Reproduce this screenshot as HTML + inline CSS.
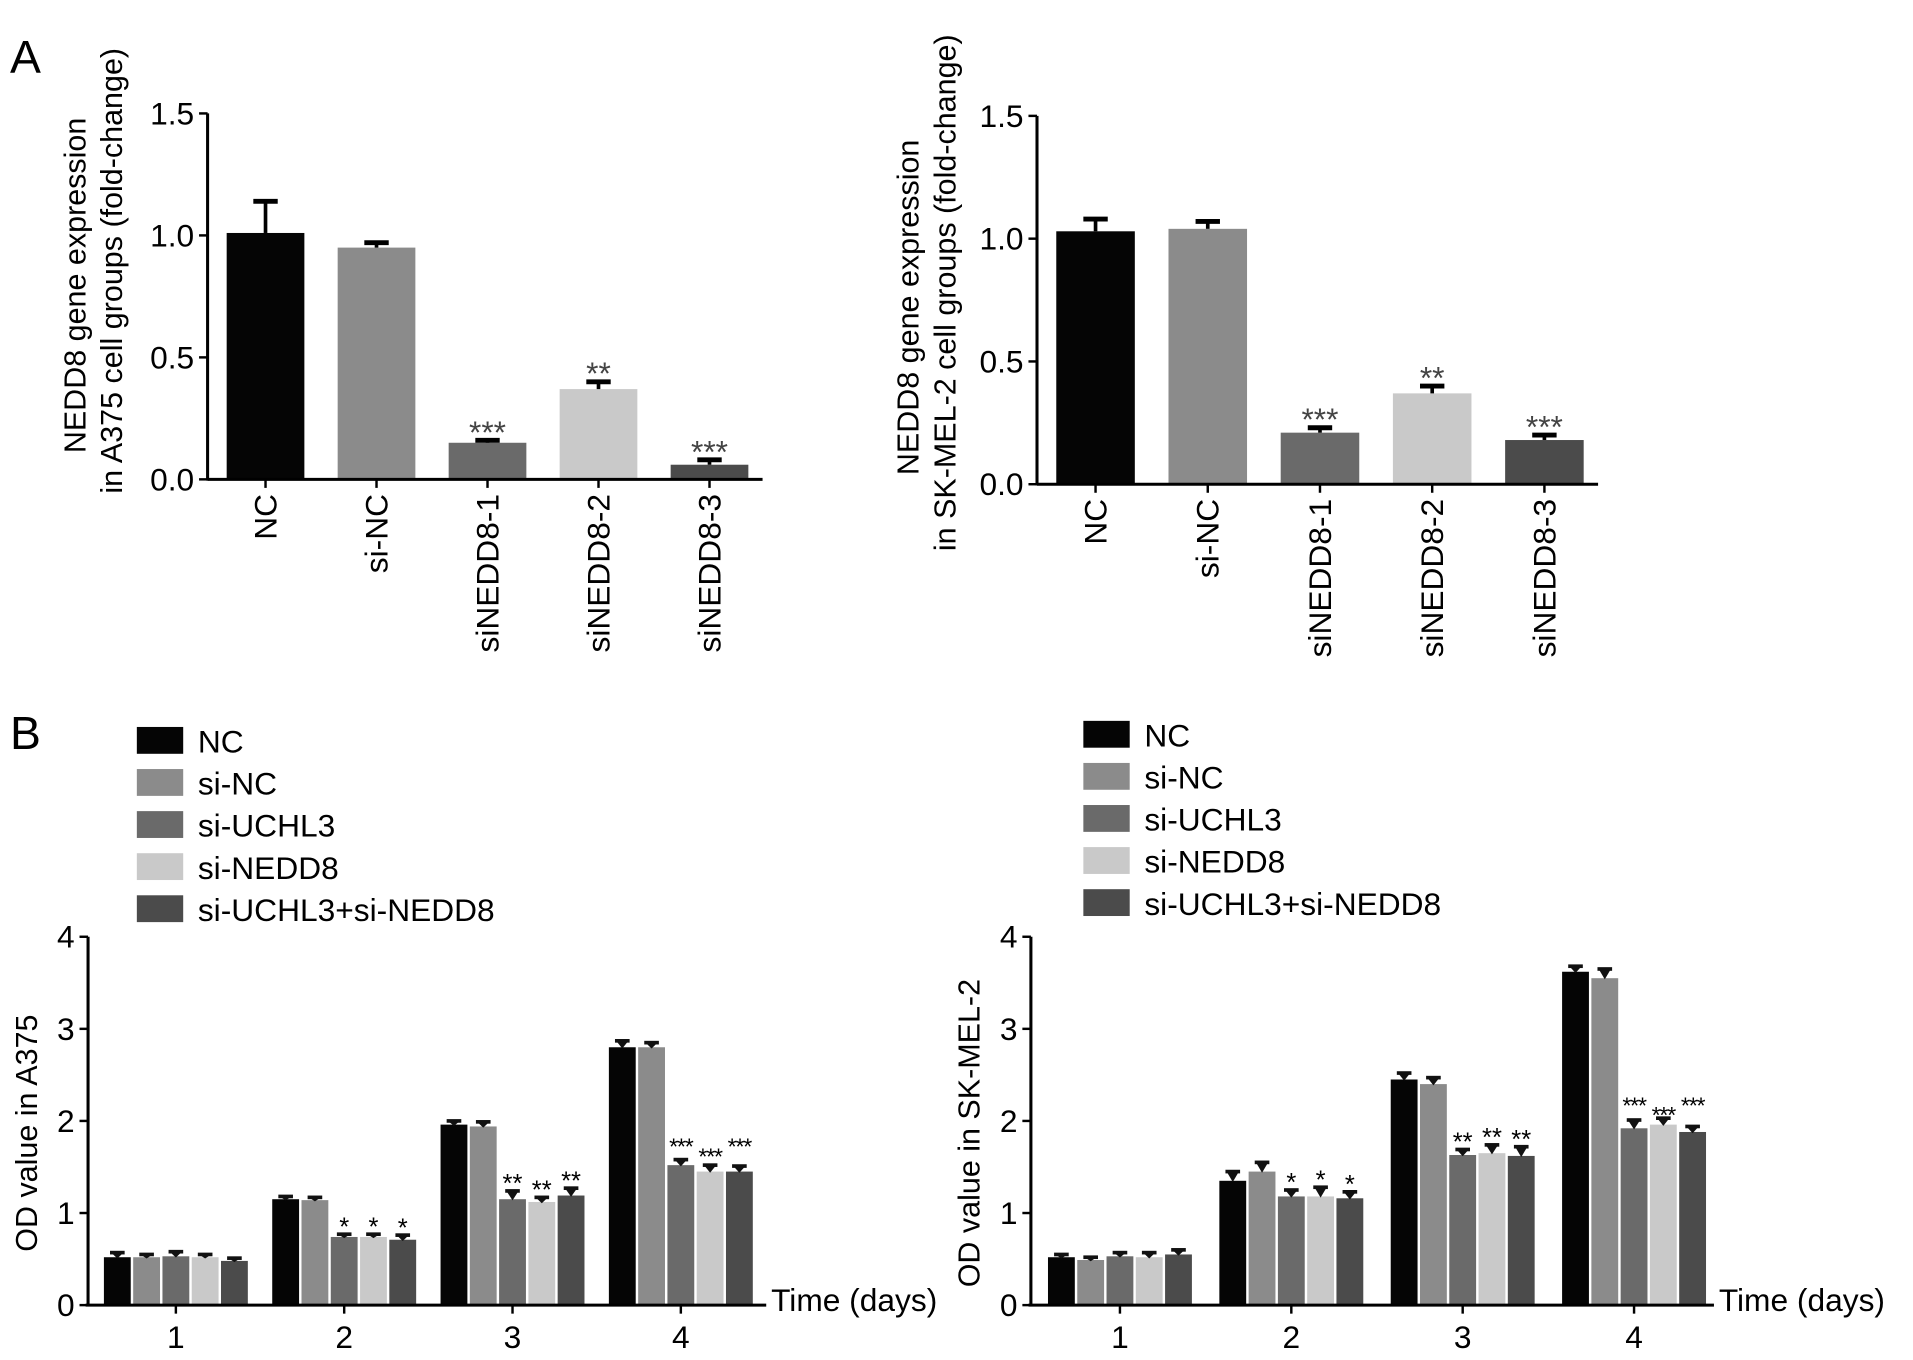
<!DOCTYPE html>
<html><head><meta charset="utf-8"><style>
html,body{margin:0;padding:0;background:#fff;}
svg{display:block;font-family:"Liberation Sans",Arial,sans-serif;}
</style></head><body>
<svg id="fig" width="1913" height="1360" viewBox="0 0 1568 1115" xmlns="http://www.w3.org/2000/svg">
<rect width="1568" height="1115" fill="#fff"/>
<text x="8" y="60" font-size="38">A</text>
<text x="8" y="614" font-size="38">B</text>
</svg>
<script>
const NS='http://www.w3.org/2000/svg';
const svg=document.getElementById('fig');
function el(tag,attrs,parent,txt){const e=document.createElementNS(NS,tag);for(const k in attrs)e.setAttribute(k,attrs[k]);if(txt!==undefined)e.textContent=txt;(parent||svg).appendChild(e);return e;}

// ---- Panel A data ----
const aCategories=['NC','si-NC','siNEDD8-1','siNEDD8-2','siNEDD8-3'];
const aColors=['#050505','#8b8b8b','#6a6a6a','#c9c9c9','#4b4b4b'];
const aLeftValues=[1.01,0.95,0.15,0.37,0.06];
const aLeftErr=[0.13,0.02,0.01,0.03,0.02];
const aLeftStars=['','','***','**','***'];
const aRightValues=[1.03,1.04,0.21,0.37,0.18];
const aRightErr=[0.05,0.03,0.02,0.03,0.02];
const aRightStars=['','','***','**','***'];
const aTicks=[0,0.5,1.0,1.5];
const aTickLabels=['0.0','0.5','1.0','1.5'];

// ---- Panel B data ----
const bSeries=['NC','si-NC','si-UCHL3','si-NEDD8','si-UCHL3+si-NEDD8'];
const bColors=['#050505','#8b8b8b','#6a6a6a','#c9c9c9','#4b4b4b'];
const bDays=['1','2','3','4'];
const bLeftValues=[[0.52,1.15,1.96,2.80],[0.52,1.14,1.94,2.80],[0.53,0.74,1.15,1.52],[0.52,0.74,1.12,1.45],[0.48,0.71,1.19,1.45]];
const bLeftErr=[[0.05,0.03,0.04,0.07],[0.03,0.03,0.05,0.05],[0.05,0.03,0.09,0.06],[0.03,0.03,0.05,0.07],[0.03,0.05,0.08,0.06]];
const bRightValues=[[0.52,1.35,2.45,3.62],[0.49,1.45,2.40,3.55],[0.53,1.18,1.63,1.92],[0.52,1.18,1.65,1.96],[0.55,1.16,1.62,1.88]];
const bRightErr=[[0.03,0.10,0.07,0.06],[0.03,0.10,0.07,0.10],[0.04,0.07,0.06,0.09],[0.05,0.10,0.09,0.07],[0.05,0.07,0.10,0.06]];
const bStars=['','*','**','***'];
const bTicks=[0,1,2,3,4];

function panelA(cfg,values,errs,stars,titles,prefix){
  const g=el('g',{});
  const y=v=>cfg.y0-(v/1.5)*(cfg.y0-cfg.y15);
  const step=(cfg.x1-cfg.x0)/5, bw=step*0.7;
  const xc=i=>cfg.x0+step*(i+0.5)+2;
  values.forEach((v,i)=>{
    const b=el('rect',{x:xc(i)-bw/2,y:y(v),width:bw,height:cfg.y0-y(v),fill:aColors[i]},g);
    
    
    const top=y(v+errs[i]);
    el('line',{x1:xc(i),x2:xc(i),y1:y(v),y2:top,stroke:'#000','stroke-width':3},g);
    el('line',{x1:xc(i)-10,x2:xc(i)+10,y1:top,y2:top,stroke:'#000','stroke-width':4},g);
    if(stars[i]){const s=el('text',{x:xc(i),y:top+2,'font-size':26,'text-anchor':'middle',fill:'#444'},g,stars[i]);
      }
    const t=el('text',{transform:`translate(${xc(i)+9},${cfg.y0+12}) rotate(-90)`,'font-size':26,'text-anchor':'end'},g,aCategories[i]);
    
  });
  el('line',{x1:cfg.x0,x2:cfg.x0,y1:cfg.y15,y2:cfg.y0+1,stroke:'#000','stroke-width':2.5},g);
  el('line',{x1:cfg.x0,x2:cfg.x1,y1:cfg.y0,y2:cfg.y0,stroke:'#000','stroke-width':2.5},g);
  aCategories.forEach((c,i)=>el('line',{x1:xc(i),x2:xc(i),y1:cfg.y0,y2:cfg.y0+7,stroke:'#000','stroke-width':2},g));
  aTicks.forEach((t,i)=>{
    el('line',{x1:cfg.x0-7,x2:cfg.x0,y1:y(t),y2:y(t),stroke:'#000','stroke-width':2},g);
    const l=el('text',{x:cfg.x0-11,y:y(t)+9,'font-size':26,'text-anchor':'end'},g,aTickLabels[i]);
    
  });
  const ym=cfg.ym;
  const t1=el('text',{transform:`translate(${cfg.tx},${ym+12}) rotate(-90)`,'font-size':25,'text-anchor':'middle'},g,titles[0]);
  
  const t2=el('text',{transform:`translate(${cfg.tx+30},${ym}) rotate(-90)`,'font-size':25,'text-anchor':'middle'},g,titles[1]);
  
}
panelA({x0:170,x1:625,y0:393,y15:93,tx:70,ym:222},aLeftValues,aLeftErr,aLeftStars,['NEDD8 gene expression','in A375 cell groups (fold-change)'],'a375-expression');
panelA({x0:850,x1:1310,y0:397,y15:95,tx:753,ym:240},aRightValues,aRightErr,aRightStars,['NEDD8 gene expression','in SK-MEL-2 cell groups (fold-change)'],'skmel2-expression');

function panelB(cfg,values,errs,title,prefix){
  const g=el('g',{});
  const y=v=>cfg.y0-(v/4)*(cfg.y0-cfg.y4);
  const gc=d=>cfg.g0+cfg.gs*d;
  const bw=22, bs=24;
  bSeries.forEach((s,i)=>{
    const ly=cfg.ly+i*34.5;
    const r=el('rect',{x:cfg.lx,y:ly-11,width:38,height:22,fill:bColors[i]},g);
    
    const t=el('text',{x:cfg.lx+50,y:ly+10,'font-size':26},g,s);
    
  });
  bDays.forEach((d,di)=>{
    let maxTop=Infinity;
    bSeries.forEach((s,si)=>{ if(si>=2) maxTop=Math.min(maxTop,y(values[si][di]+errs[si][di])); });
    bSeries.forEach((s,si)=>{
      const v=values[si][di], x=gc(di)+(si-2)*bs;
      const b=el('rect',{x:x-bw/2,y:y(v),width:bw,height:cfg.y0-y(v),fill:bColors[si]},g);
      
      
      const top=y(v+errs[si][di]);
      el('path',{d:`M${x-5},${top} L${x+5},${top} L${x},${y(v)+1} Z`,fill:'#111'},g);
      el('line',{x1:x-6,x2:x+6,y1:top,y2:top,stroke:'#111','stroke-width':3},g);
      if(si>=2&&bStars[di]){
        const long=bStars[di].length>2;
        const sy=long?(maxTop-4+(si===3?8:0)):top+1;
        const st=el('text',{x:x,y:sy,'font-size':long?19:21,'text-anchor':'middle','letter-spacing':long?-1:0},g,bStars[di]);
        
      }
    });
    el('line',{x1:gc(di),x2:gc(di),y1:cfg.y0,y2:cfg.y0+7,stroke:'#000','stroke-width':2},g);
    const l=el('text',{x:gc(di),y:cfg.y0+35,'font-size':26,'text-anchor':'middle'},g,d);
    
  });
  el('line',{x1:cfg.x0,x2:cfg.x0,y1:cfg.y4,y2:cfg.y0+1,stroke:'#000','stroke-width':2.5},g);
  el('line',{x1:cfg.x0-2,x2:cfg.x1,y1:cfg.y0,y2:cfg.y0,stroke:'#000','stroke-width':2.5},g);
  bTicks.forEach(t=>{
    el('line',{x1:cfg.x0-7,x2:cfg.x0,y1:y(t),y2:y(t),stroke:'#000','stroke-width':2},g);
    const l=el('text',{x:cfg.x0-11,y:y(t)+9,'font-size':26,'text-anchor':'end'},g,String(t));
    
  });
  const xt=el('text',{x:cfg.x1+4,y:cfg.y0+5,'font-size':26},g,'Time (days)');
  
  const yt=el('text',{transform:`translate(${cfg.x0-42},${(cfg.y0+cfg.y4)/2+10}) rotate(-90)`,'font-size':25,'text-anchor':'middle'},g,title);
  
}
panelB({x0:72,x1:628,y0:1070,y4:768,lx:112,ly:607,g0:144,gs:138},bLeftValues,bLeftErr,'OD value in A375','a375-od');
panelB({x0:845,x1:1405,y0:1070,y4:768,lx:888,ly:602,g0:918,gs:140.5},bRightValues,bRightErr,'OD value in SK-MEL-2','skmel2-od');
</script>
</body></html>
